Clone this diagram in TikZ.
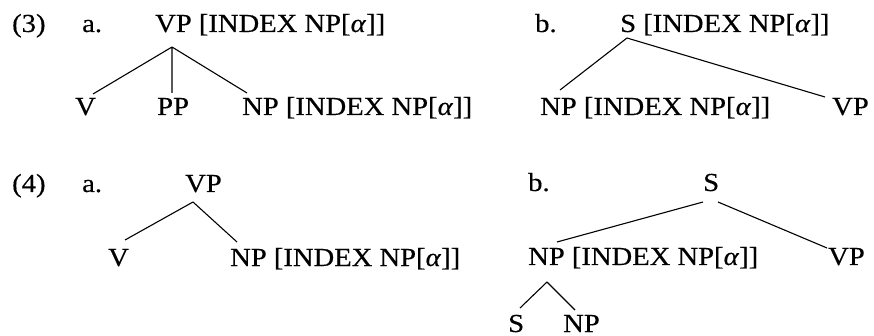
\documentclass[tikz,border=0pt]{standalone}
\usepackage{fontspec}
\setmainfont{Liberation Serif}[FakeStretch=1.1,FakeBold=0.4]
\begin{document}
\begin{tikzpicture}[x=1pt,y=-1pt,
  lbl/.style={anchor=base west,inner sep=0pt,font=\fontsize{26}{30}\selectfont},
  br/.style={line width=1.1pt}]
\useasboundingbox (0,0) rectangle (874,336);
% ---------- (3) a ----------
\node[lbl] (n3) at (12,32) {(3)};
\node[lbl] (a3) at (82,32) {a.};
\node[lbl] (vp3) at (155,32) {VP [INDEX NP[\textit{α}]]};
\node[lbl] (v3) at (75,115) {V};
\node[lbl] (pp3) at (157,115) {PP};
\node[lbl] (np3) at (242,115) {NP [INDEX NP[\textit{α}]]};
\coordinate (t3a) at (172,47);
\coordinate (e3v) at (93,94);
\coordinate (e3p) at (172,93);
\coordinate (e3n) at (247,93);
\draw[br] (t3a) -- (e3v) (t3a) -- (e3p) (t3a) -- (e3n);
% ---------- (3) b ----------
\node[lbl] (b3) at (535,32) {b.};
\node[lbl] (s3) at (620,32) {S [INDEX NP[\textit{α}]]};
\node[lbl] (np3b) at (540,115) {NP [INDEX NP[\textit{α}]]};
\node[lbl] (vp3b) at (832,115) {VP};
\coordinate (t3b) at (627,38);
\coordinate (e3bn) at (560,90);
\coordinate (e3bv) at (825,97);
\draw[br] (t3b) -- (e3bn) (t3b) -- (e3bv);
% ---------- (4) a ----------
\node[lbl] (n4) at (12,192) {(4)};
\node[lbl] (a4) at (82,192) {a.};
\node[lbl] (vp4) at (185,192) {VP};
\node[lbl] (v4) at (108,266) {V};
\node[lbl] (np4) at (230,266) {NP [INDEX NP[\textit{α}]]};
\coordinate (t4a) at (193,202);
\coordinate (e4v) at (125,240);
\coordinate (e4n) at (237,242);
\draw[br] (t4a) -- (e4v) (t4a) -- (e4n);
% ---------- (4) b ----------
\node[lbl] (b4) at (528,191) {b.};
\node[lbl] (s4) at (703,191) {S};
\node[lbl] (np4b) at (528,265) {NP [INDEX NP[\textit{α}]]};
\node[lbl] (vp4b) at (828,265) {VP};
\coordinate (t4bl) at (703,202);
\coordinate (t4br) at (718,202);
\coordinate (e4bn) at (557,242);
\coordinate (e4bv) at (827,248);
\draw[br] (t4bl) -- (e4bn) (t4br) -- (e4bv);
\node[lbl] (s4c) at (508,332) {S};
\node[lbl] (np4c) at (563,332) {NP};
\coordinate (t4c) at (547,282);
\coordinate (e4cs) at (520,308);
\coordinate (e4cn) at (575,310);
\draw[br] (t4c) -- (e4cs) (t4c) -- (e4cn);
\end{tikzpicture}
\end{document}
